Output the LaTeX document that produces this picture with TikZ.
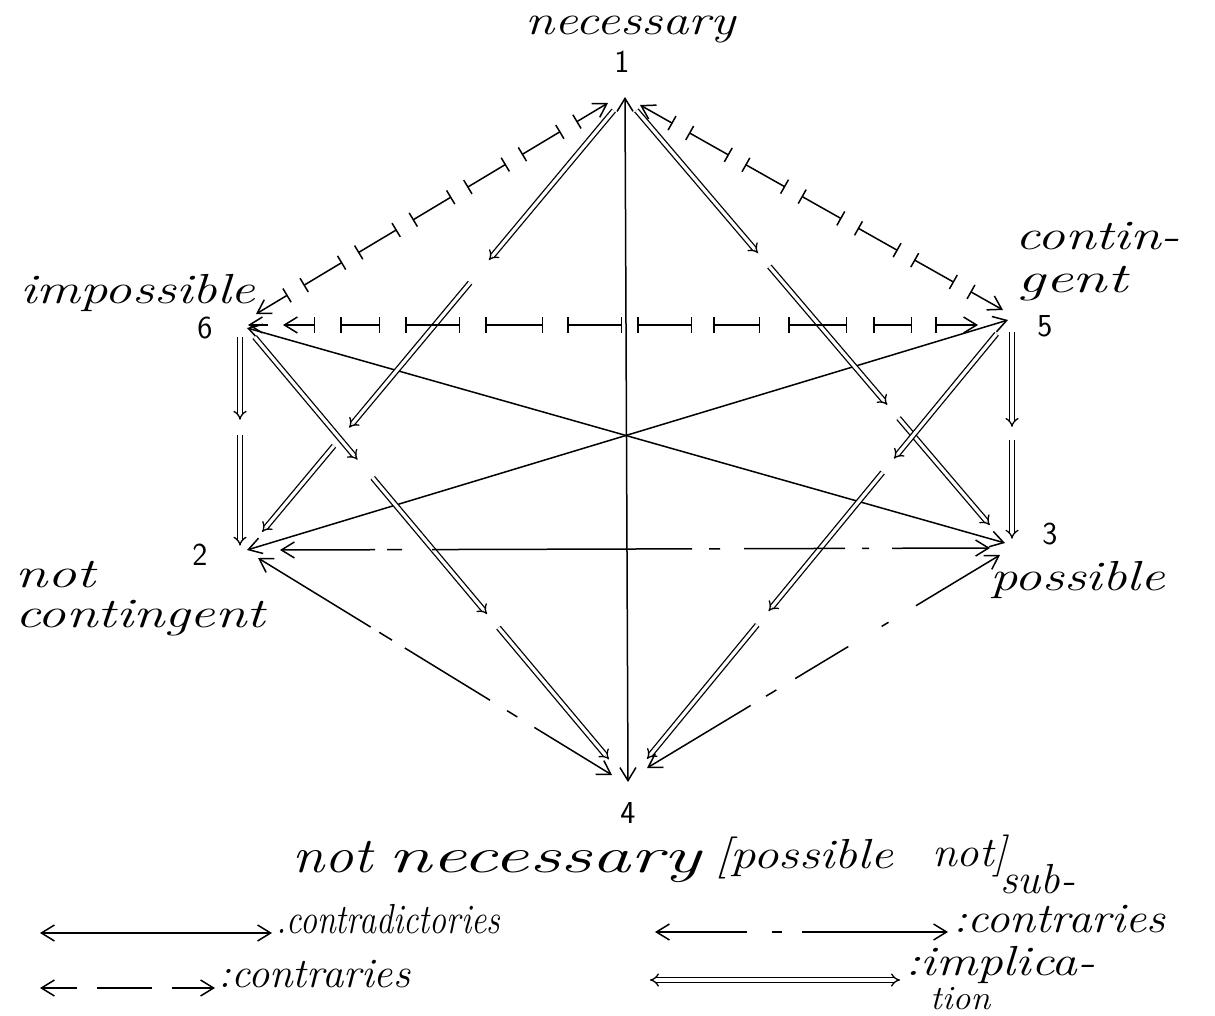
\documentclass[tikz,border=0pt]{standalone}
\usetikzlibrary{arrows.meta,calc}
\newcommand\fitw[2]{\resizebox{#1}{\height}{#2}}
\begin{document}
\begin{tikzpicture}[x=1pt,y=-1pt,
  mybarb/.tip={Straight Barb[length=13pt,width=16pt]},
  mybar/.tip={Bar[width=16pt]},
  lw/.style={line width=1.5pt},
  contradict/.style={lw, arrows={mybarb-mybarb}},
  contseg/.style={lw, arrows={mybar-mybar}},
  contend/.style={lw, arrows={mybar-mybarb}},
  subc/.style={lw, arrows={mybarb-mybarb}},
  impl/.style={line width=1.3pt, double, double distance=3.2pt, arrows={-Implies[scale=1.35]}},
  lbl/.style={font=\fontsize{42}{46}\selectfont\itshape, inner sep=0pt, anchor=base west},
  smlbl/.style={font=\fontsize{34}{38}\selectfont\itshape, inner sep=0pt, anchor=base west},
  biglbl/.style={font=\fontsize{50}{54}\selectfont\itshape, inner sep=0pt, anchor=base west},
  num/.style={font=\fontsize{32}{36}\selectfont\sffamily, inner sep=0pt}]
\fill[white] (0,0) rectangle (1215,1016);
\useasboundingbox (0,0) rectangle (1215,1016);

% apex points
\coordinate (n1) at (625,97);
\coordinate (n6) at (247,328);
\coordinate (n5) at (1008,320);
\coordinate (n2) at (247,550);
\coordinate (n3) at (1005,543);
\coordinate (n4) at (628,782);
\coordinate (v6) at (240,333);
\coordinate (v2) at (240,550);
\coordinate (v5) at (1012,328);
\coordinate (v3) at (1012,543);
\coordinate (c1l) at (608,103);
\coordinate (c6) at (256,314);
\coordinate (c1r) at (640,105);
\coordinate (c5) at (1003,310);
\coordinate (h6) at (248,325);
\coordinate (h5) at (978,325);
\coordinate (s2a) at (280,550);
\coordinate (s3a) at (990,548);
\coordinate (s2b) at (258,558);
\coordinate (s4a) at (612,775);
\coordinate (s3b) at (1000,555);
\coordinate (s4b) at (647,768);

% labels
\node[lbl] (tnec) at (525,35) {\fitw{210pt}{necessary}};
\node[num] (k1) at (622,62) {1};
\node[lbl] (timp) at (20,303) {\fitw{235pt}{impossible}};
\node[num] (k6) at (205,328) {6};
\node[lbl] (tcon1) at (1015,250) {\fitw{165pt}{contin-}};
\node[lbl] (tcon2) at (1017,292) {\fitw{110pt}{gent}};
\node[num] (k5) at (1045,326) {5};
\node[num] (k2) at (200,555) {2};
\node[lbl] (tnot) at (15,587) {\fitw{80pt}{not}};
\node[lbl] (tnc) at (15,627) {\fitw{250pt}{contingent}};
\node[num] (k3) at (1050,534) {3};
\node[lbl] (tpos) at (990,590) {\fitw{175pt}{possible}};
\node[num] (k4) at (628,813) {4};
\node[biglbl] (tnn1) at (292,872) {\fitw{80pt}{not}};
\node[biglbl] (tnn2) at (388,872) {\fitw{312pt}{necessary}};
\node[lbl] (tpn1) at (715,868) {\fitw{178pt}{[possible}};
\node[lbl] (tpn2) at (932,866) {\fitw{75pt}{not]}};

% contradictories
\draw[contradict] (n1) -- (n4);
\draw[contradict] (n6) -- (n3);
\draw[contradict] (n5) -- (n2);

% implications
\foreach \a/\b/\s/\e in {n1/n2/0.03/0.36, n1/n2/0.41/0.73, n1/n2/0.77/0.96,
  n1/n3/0.03/0.35, n1/n3/0.38/0.69, n1/n3/0.72/0.96,
  n6/n4/0.02/0.29, n6/n4/0.33/0.63, n6/n4/0.66/0.95,
  n5/n4/0.03/0.30, n5/n4/0.33/0.63, n5/n4/0.66/0.95,
  v6/v2/0.02/0.40, v6/v2/0.47/0.98,
  v5/v3/0.02/0.46, v5/v3/0.52/0.98}
  \draw[impl] ($(\a)!\s!(\b)$) -- ($(\a)!\e!(\b)$);

% contraries 1-6 and 1-5
\foreach \a/\b in {c1l/c6, c1r/c5} {
  \draw[contend] ($(\a)!0.09!(\b)$) -- (\a);
  \draw[contend] ($(\a)!0.91!(\b)$) -- (\b);
  \foreach \s/\e in {0.135/0.245, 0.29/0.40, 0.445/0.555, 0.60/0.71, 0.755/0.865}
    \draw[contseg] ($(\a)!\s!(\b)$) -- ($(\a)!\e!(\b)$);
}
% contraries 6-5
\draw[lw, arrows={-mybarb}] ($(h6)!20pt!(h5)$) -- (h6);
\draw[contend] ($(h6)!67pt!(h5)$) -- ($(h6)!35pt!(h5)$);
\draw[contend] ($(h6)!687pt!(h5)$) -- (h5);
\foreach \s/\e in {92/132, 157/212, 237/295, 319/374, 389/444, 465/512, 540/599, 625/664}
  \draw[contseg] ($(h6)!\s pt!(h5)$) -- ($(h6)!\e pt!(h5)$);

% subcontraries
\draw[subc, dash pattern=on 93pt off 12pt on 15pt off 30pt on 260pt off 17pt on 11pt off 24pt on 101pt off 17pt on 7pt off 23pt on 100pt] (s2a) -- (s3a);
\draw[subc, dash pattern=on 130pt off 10pt on 15pt off 15pt on 100pt off 20pt on 12pt off 20pt on 95pt] (s2b) -- (s4a);
\draw[subc, dash pattern=on 96pt off 32pt on 8pt off 39pt on 62pt off 22pt on 12pt off 18pt on 123pt] (s3b) -- (s4b);

% legend
\coordinate (lg1a) at (40,933);
\coordinate (lg1b) at (272,933);
\coordinate (lg2a) at (655,932);
\coordinate (lg2b) at (948,932);
\coordinate (lg3a) at (40,988);
\coordinate (lg3b) at (215,988);
\coordinate (lg4a) at (650,980);
\coordinate (lg4b) at (900,980);
\draw[contradict] (lg1a) -- (lg1b);
\draw[subc, dash pattern=on 90pt off 25pt on 10pt off 20pt on 148pt] (lg2a) -- (lg2b);
\draw[lw, arrows={mybarb-mybarb}, dash pattern=on 35pt off 20pt on 55pt off 20pt on 45pt] (lg3a) -- (lg3b);
\draw[line width=1.3pt, double, double distance=3.2pt, arrows={Implies[scale=1.35]-Implies[scale=1.35]}] (lg4a) -- (lg4b);
\node[lbl] (l1) at (276,933) {\fitw{224pt}{.contradictories}};
\node[lbl] (l2s) at (1000,893) {\fitw{75pt}{sub-}};
\node[lbl] (l2) at (953,932) {\fitw{212pt}{:contraries}};
\node[lbl] (l3) at (218,987) {\fitw{192pt}{:contraries}};
\node[lbl] (l4) at (905,975) {\fitw{190pt}{:implica-}};
\node[smlbl] (l4b) at (930,1009) {\fitw{60pt}{tion}};
\end{tikzpicture}
\end{document}
